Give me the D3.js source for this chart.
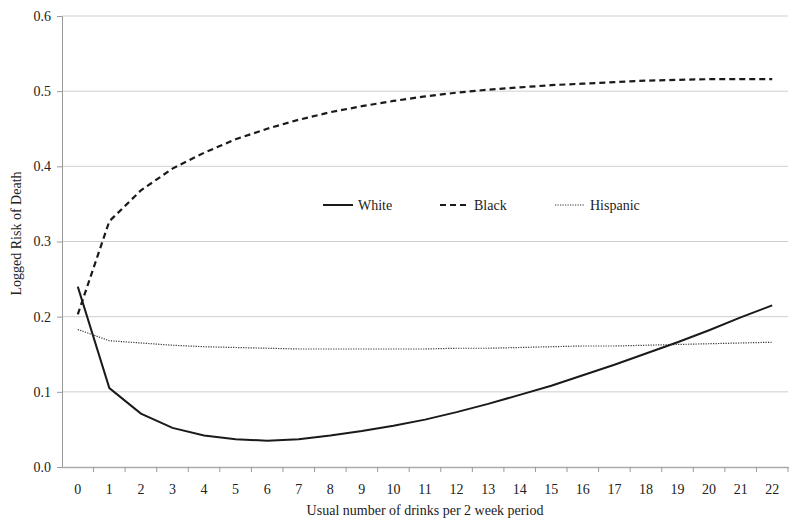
<!DOCTYPE html>
<html lang="en">
<head>
  <meta charset="utf-8">
  <title>Logged risk of death</title>
  <script src="https://d3js.org/d3.v7.min.js"></script>
  <style type="text/css">
    body { margin: 0; background: #fff; }
    text { font-family: "Liberation Serif", "Times New Roman", serif; fill: #222; }
  </style>
</head>
<body>
  <script type="text/javascript">

    var width = 800;
    var height = 528;

    // data
    var drinks = d3.range(0, 23).map(String);
    var white = [0.240, 0.105, 0.071, 0.052, 0.042, 0.037, 0.035, 0.037, 0.042, 0.048, 0.055, 0.063,
                 0.073, 0.084, 0.096, 0.108, 0.122, 0.136, 0.151, 0.166, 0.182, 0.199, 0.215];
    var black = [0.203, 0.327, 0.368, 0.397, 0.418, 0.436, 0.450, 0.462, 0.472, 0.480, 0.487, 0.493,
                 0.498, 0.502, 0.505, 0.508, 0.510, 0.512, 0.514, 0.515, 0.516, 0.516, 0.516];
    var hispanic = [0.183, 0.168, 0.165, 0.162, 0.160, 0.159, 0.158, 0.157, 0.157, 0.157, 0.157, 0.157,
                    0.158, 0.158, 0.159, 0.160, 0.161, 0.161, 0.162, 0.163, 0.164, 0.165, 0.166];
    var yTicks = [0, 0.1, 0.2, 0.3, 0.4, 0.5, 0.6];

    var series = [
      { name: "White", values: white, dash: null, width: 2, color: "#1a1a1a" },
      { name: "Black", values: black, dash: "6,4", width: 2.2, color: "#1a1a1a" },
      { name: "Hispanic", values: hispanic, dash: "1.2,1.3", width: 1.2, color: "#333" }
    ];

    // plot box (note: "top" is reserved on window, so prefixed names)
    var plotLeft = 62, plotRight = 788, plotTop = 16, plotBottom = 467;

    var svg = d3.select("body")
      .append("svg")
      .attr("width", width)
      .attr("height", height);

    var xScale = d3.scaleBand().domain(drinks).range([plotLeft, plotRight]).padding(0);
    var yScale = d3.scaleLinear().domain([0, 0.6]).range([plotBottom, plotTop]);

    // gridlines
    svg.selectAll(".grid")
      .data(yTicks.slice(1))
      .enter()
      .append("line")
      .attr("class", "grid")
      .attr("x1", plotLeft)
      .attr("x2", plotRight)
      .attr("y1", function(d){ return yScale(d); })
      .attr("y2", function(d){ return yScale(d); })
      .attr("stroke", "#cfcfcf")
      .attr("stroke-width", 1);

    // y axis
    var yAxis = d3.axisLeft(yScale)
      .tickValues(yTicks)
      .tickFormat(d3.format(".1f"))
      .tickSize(5)
      .tickPadding(6);
    var gy = svg.append("g")
      .attr("transform", "translate(" + plotLeft + ",0)")
      .call(yAxis);
    gy.select(".domain").attr("stroke", "#999");
    gy.selectAll(".tick line").attr("stroke", "#999");
    gy.selectAll("text").style("font-size", "14px").attr("fill", "#222");

    // x axis: ticks at category boundaries, labels at centres
    var xAxis = d3.axisBottom(xScale).tickSize(0).tickPadding(17);
    var gx = svg.append("g")
      .attr("transform", "translate(0," + plotBottom + ")")
      .call(xAxis);
    gx.select(".domain").attr("stroke", "#aaa").attr("stroke-width", 1.5);
    gx.selectAll("text").style("font-size", "14px").attr("fill", "#222");
    gx.selectAll(".bound")
      .data(drinks)
      .enter()
      .append("line")
      .attr("class", "bound")
      .attr("x1", function(d){ return xScale(d) + xScale.bandwidth(); })
      .attr("x2", function(d){ return xScale(d) + xScale.bandwidth(); })
      .attr("y1", 0)
      .attr("y2", 5)
      .attr("stroke", "#999");

    // axis titles
    svg.append("text")
      .attr("x", (plotLeft + plotRight) / 2)
      .attr("y", 515)
      .attr("text-anchor", "middle")
      .style("font-size", "14px")
      .text("Usual number of drinks per 2 week period");

    svg.append("text")
      .attr("transform", "translate(21," + ((plotTop + plotBottom) / 2 - 8) + ") rotate(-90)")
      .attr("text-anchor", "middle")
      .style("font-size", "14px")
      .text("Logged Risk of Death");

    // lines
    var line = d3.line()
      .x(function(d, i){ return xScale(drinks[i]) + xScale.bandwidth() / 2; })
      .y(function(d){ return yScale(d); });

    svg.selectAll(".series")
      .data(series)
      .enter()
      .append("path")
      .attr("class", "series")
      .attr("d", function(s){ return line(s.values); })
      .attr("fill", "none")
      .attr("stroke", function(s){ return s.color; })
      .attr("stroke-width", function(s){ return s.width; })
      .attr("stroke-dasharray", function(s){ return s.dash; });

    // legend
    var legendX = [323, 440, 555];
    var legend = svg.selectAll(".legend")
      .data(series)
      .enter()
      .append("g")
      .attr("class", "legend")
      .attr("transform", function(s, i){ return "translate(" + legendX[i] + ",205)"; });
    legend.append("line")
      .attr("x1", 0)
      .attr("x2", function(s, i){ return i == 1 ? 26 : 30; })
      .attr("y1", 0)
      .attr("y2", 0)
      .attr("stroke", function(s){ return s.color; })
      .attr("stroke-width", function(s){ return s.width; })
      .attr("stroke-dasharray", function(s){ return s.dash; });
    legend.append("text")
      .attr("x", function(s, i){ return i == 1 ? 34 : 35; })
      .attr("y", 5)
      .style("font-size", "14px")
      .text(function(s){ return s.name; });

  </script>
</body>
</html>
